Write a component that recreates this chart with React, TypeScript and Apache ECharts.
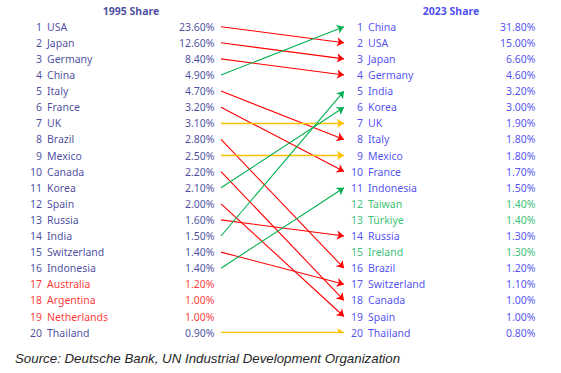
import React, { useEffect, useRef } from "react";
import * as echarts from "echarts";

const names1995 = ["USA", "Japan", "Germany", "China", "Italy", "France", "UK", "Brazil", "Mexico", "Canada", "Korea", "Spain", "Russia", "India", "Switzerland", "Indonesia", "Australia", "Argentina", "Netherlands", "Thailand"];
const share1995 = [23.6, 12.6, 8.4, 4.9, 4.7, 3.2, 3.1, 2.8, 2.5, 2.2, 2.1, 2.0, 1.6, 1.5, 1.4, 1.4, 1.2, 1.0, 1.0, 0.9];
const names2023 = ["China", "USA", "Japan", "Germany", "India", "Korea", "UK", "Italy", "Mexico", "France", "Indonesia", "Taiwan", "Türkiye", "Russia", "Ireland", "Brazil", "Switzerland", "Canada", "Spain", "Thailand"];
const share2023 = [31.8, 15.0, 6.6, 4.6, 3.2, 3.0, 1.9, 1.8, 1.8, 1.7, 1.5, 1.4, 1.4, 1.3, 1.3, 1.2, 1.1, 1.0, 1.0, 0.8];
const headers = ["1995 Share", "2023 Share"];
const sourceText = "Source: Deutsche Bank, UN Industrial Development Organization";

const FONT = "Noto Sans";
const NAVY = "#1a1a88";
const BLUE = "#2424ee";
const RED = "#ff0000";
const GREEN = "#00b050";
const YELLOW = "#ffc000";

// column positions (x axis units = px)
const COL = {
  lRank: 42.5,
  lName: 46.5,
  lPct: 215,
  lineStart: 221,
  lineEnd: 344,
  rRank: 363.5,
  rName: 367.5,
  rPct: 536,
  lTitle: 131,
  rTitle: 451,
};

const fmt = (v: number) => v.toFixed(2) + "%";

export default function App() {
  const ref = useRef<HTMLDivElement>(null);
  useEffect(() => {
    document.body.style.margin = "0";
    const chart = echarts.init(ref.current!, undefined, { renderer: "svg" });

    const leftColor = names1995.map((n) => (names2023.includes(n) ? NAVY : RED));
    const rightColor = names2023.map((n) => (names1995.includes(n) ? BLUE : GREEN));

    const textSeries = (
      name: string,
      x: number,
      labels: string[],
      colors: string[],
      position: string,
      extra: any = {}
    ) => ({
      type: "scatter",
      name,
      silent: true,
      symbolSize: 1,
      itemStyle: { color: "rgba(0,0,0,0)" },
      data: labels.map((t, i) => ({
        value: [x, i + 1],
        label: { color: colors[i] },
        text: t,
      })),
      label: {
        show: true,
        position,
        distance: 0,
        fontFamily: FONT,
        fontSize: 10.5,
        formatter: (p: any) => p.data.text,
        ...extra,
      },
    });

    const links: any[] = [];
    names1995.forEach((n, i) => {
      const j = names2023.indexOf(n);
      if (j < 0) return;
      const color = j < i ? GREEN : j > i ? RED : YELLOW;
      links.push({
        coords: [
          [COL.lineStart, i + 1],
          [COL.lineEnd, j + 1],
        ],
        lineStyle: { color, width: color === YELLOW ? 1.4 : 1.1 },
        itemStyle: { color },
      });
    });

    chart.setOption({
      animation: false,
      backgroundColor: "#ffffff",
      title: {
        text: sourceText,
        left: 10,
        top: 347,
        textStyle: {
          fontFamily: "Liberation Sans",
          fontStyle: "italic",
          fontWeight: "normal",
          fontSize: 13.3,
          color: "#262626",
        },
      },
      grid: { left: 0, right: 0, top: 10.6, bottom: 40.4 },
      xAxis: { type: "value", min: 0, max: 561, show: false },
      yAxis: { type: "value", min: 0, max: 20, inverse: true, show: false },
      series: [
        {
          type: "lines",
          coordinateSystem: "cartesian2d",
          silent: true,
          symbol: ["none", "arrow"],
          symbolSize: 7,
          lineStyle: { width: 1.1, opacity: 1 },
          data: links,
        },
        textSeries("lRank", COL.lRank, names1995.map((_, i) => String(i + 1)), leftColor, "left"),
        textSeries("lName", COL.lName, names1995, leftColor, "right"),
        textSeries("lPct", COL.lPct, share1995.map(fmt), leftColor, "left"),
        textSeries("rRank", COL.rRank, names2023.map((_, i) => String(i + 1)), rightColor, "left"),
        textSeries("rName", COL.rName, names2023, rightColor, "right"),
        textSeries("rPct", COL.rPct, share2023.map(fmt), rightColor, "left"),
        {
          type: "scatter",
          silent: true,
          symbolSize: 1,
          itemStyle: { color: "rgba(0,0,0,0)" },
          data: [
            { value: [COL.lTitle, 0], text: headers[0], label: { color: "#1c1c8c" } },
            { value: [COL.rTitle, 0], text: headers[1], label: { color: "#2020f0" } },
          ],
          label: {
            show: true,
            position: "inside",
            fontFamily: FONT,
            fontWeight: "bold",
            fontSize: 10.5,
            formatter: (p: any) => p.data.text,
          },
        },
      ],
    });
    return () => chart.dispose();
  }, []);
  return <div ref={ref} style={{ width: 561, height: 373 }} />;
}
